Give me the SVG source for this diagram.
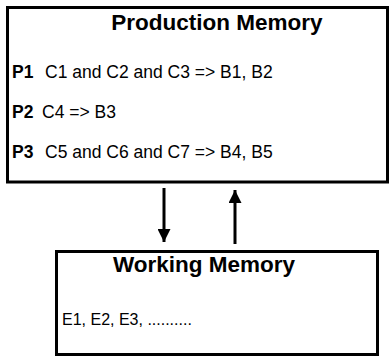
<svg xmlns="http://www.w3.org/2000/svg" width="390" height="356" viewBox="0 0 390 356">
<style>
.box{fill:#fff;stroke:#000;stroke-width:3}
.title{font-family:"Liberation Sans",Arial,sans-serif;font-weight:bold;font-size:22.5px;fill:#000}
.lbl{font-family:"Liberation Sans",Arial,sans-serif;font-weight:bold;font-size:17.5px;fill:#000}
.txt{font-family:"Liberation Sans",Arial,sans-serif;font-size:17.5px;fill:#000}
.wtxt{font-family:"Liberation Sans",Arial,sans-serif;font-size:16px;fill:#000}
.conn{stroke:#000;stroke-width:3;fill:none}
</style>
<defs>
<marker id="ah" viewBox="0 0 14 13" refX="13" refY="6.5" markerWidth="14" markerHeight="13" markerUnits="userSpaceOnUse" orient="auto">
<path d="M0,0 L13,6.5 L0,13 Z" fill="#000"/>
</marker>
</defs>
<g id="production-memory">
<rect class="box" x="7.5" y="7.5" width="380" height="174.5"/>
<text class="title" x="217" y="30" text-anchor="middle">Production Memory</text>
<text x="12" y="78"><tspan class="lbl">P1</tspan><tspan class="txt" x="45">C1 and C2 and C3 =&gt; B1, B2</tspan></text>
<text x="12" y="118"><tspan class="lbl">P2</tspan><tspan class="txt" x="42">C4 =&gt; B3</tspan></text>
<text x="12" y="158"><tspan class="lbl">P3</tspan><tspan class="txt" x="45">C5 and C6 and C7 =&gt; B4, B5</tspan></text>
</g>
<g id="working-memory">
<rect class="box" x="56.5" y="251.5" width="321" height="103"/>
<text class="title" x="204" y="272" text-anchor="middle">Working Memory</text>
<text class="wtxt" x="62" y="325">E1, E2, E3, ..........</text>
</g>
<g id="connectors">
<line class="conn" x1="164" y1="188" x2="164" y2="242" marker-end="url(#ah)"/>
<line class="conn" x1="235" y1="244" x2="235" y2="190" marker-end="url(#ah)"/>
</g>
</svg>
